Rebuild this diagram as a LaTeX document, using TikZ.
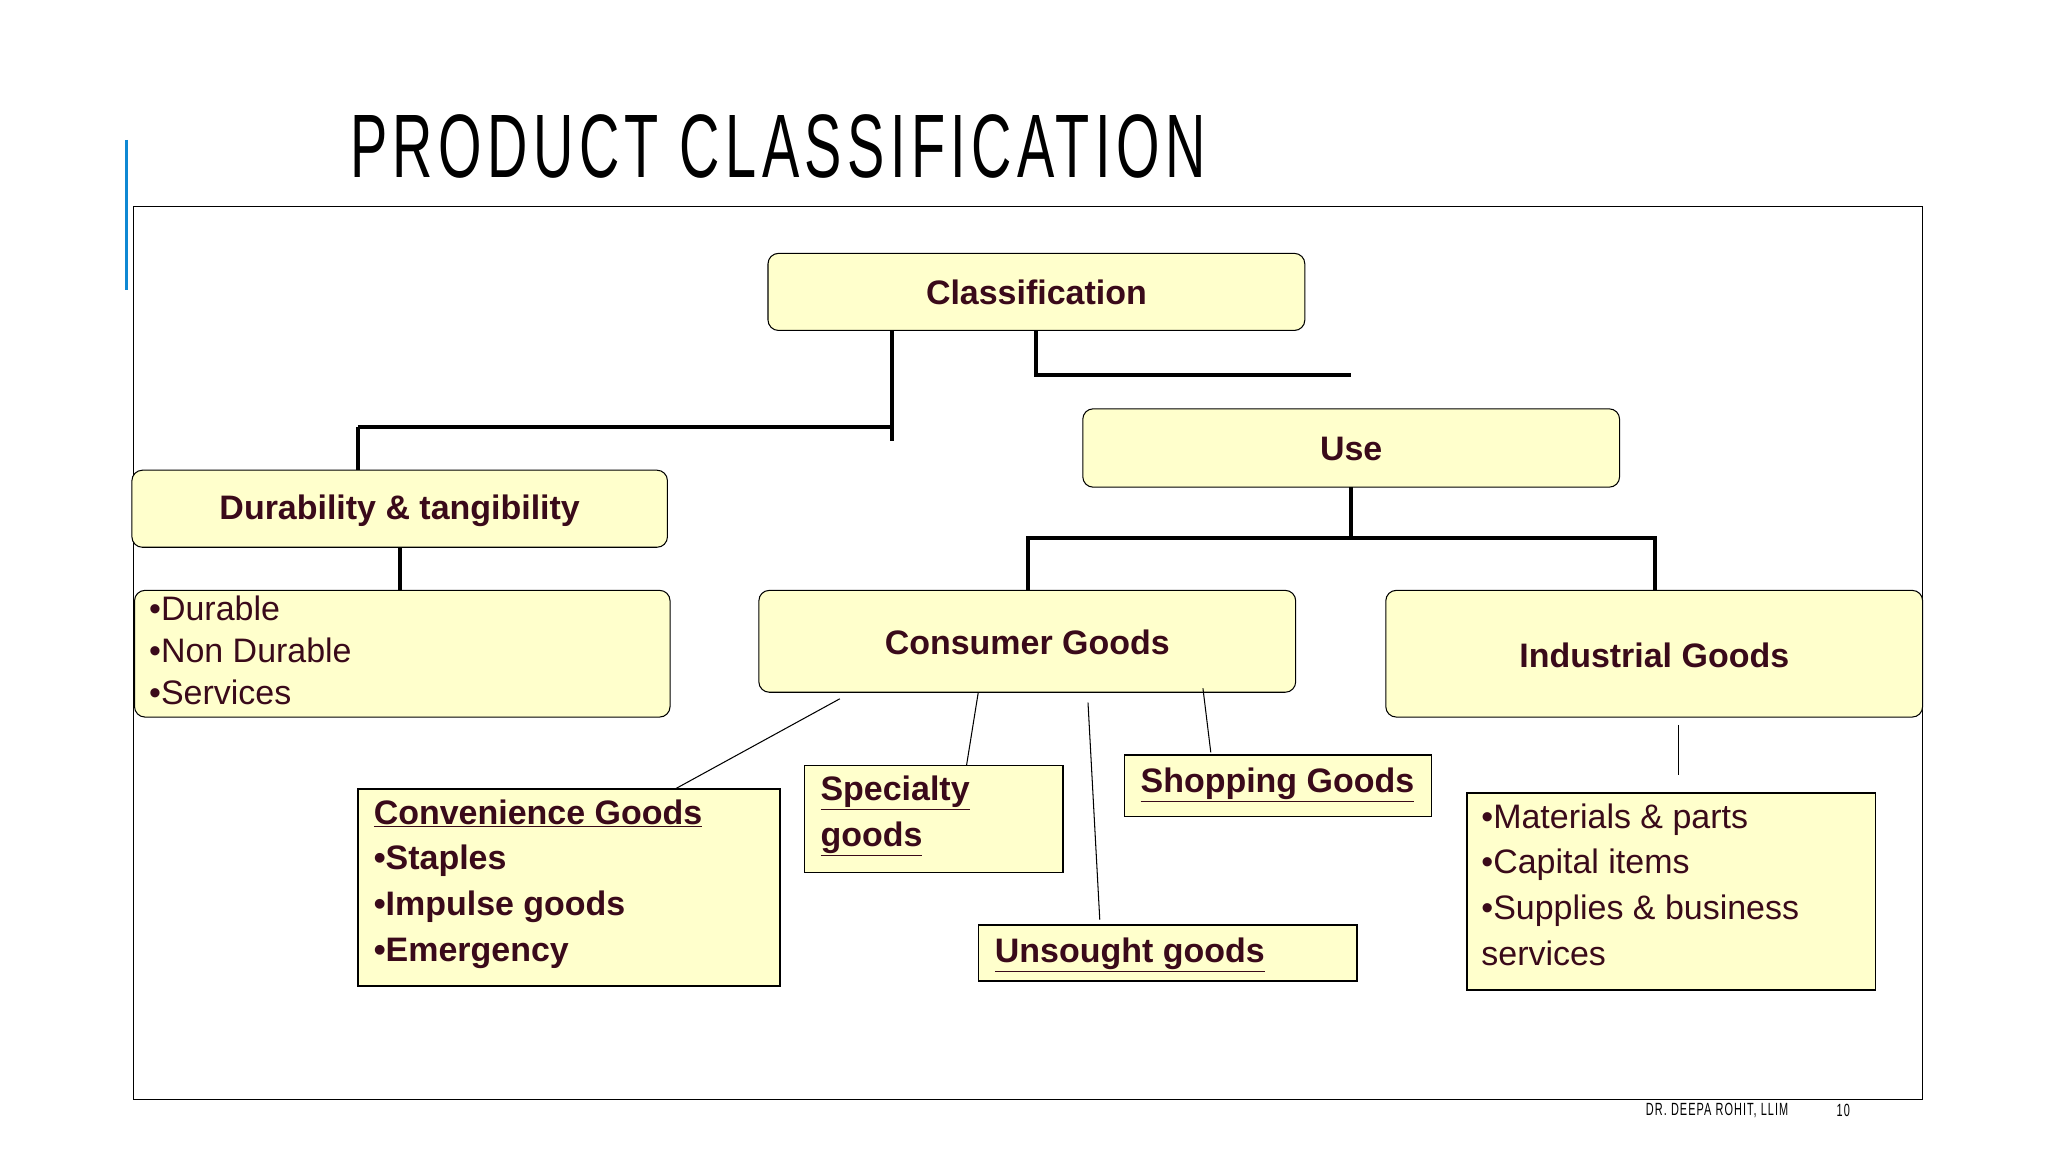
\documentclass[tikz,border=0pt]{standalone}
\usepackage{fontspec}
\setmainfont{Liberation Sans}
\newfontfamily\titlefont[FakeStretch=0.62,LetterSpace=6]{Liberation Sans}
\begin{document}
\begin{tikzpicture}[x=1pt,y=-1pt,
  rbox/.style={draw=black,fill=boxy,rounded corners=8pt,line width=0.8pt},
  sbox/.style={draw=black,fill=boxy,line width=1.2pt},
  thick line/.style={line width=3pt},
  thin line/.style={line width=0.8pt},
  lbl/.style={font=\fontsize{26}{30}\selectfont\bfseries,text=ink},
  lst/.style={font=\fontsize{26}{32}\selectfont,text=ink,align=left,anchor=north west,inner sep=0pt}]
\definecolor{boxy}{HTML}{FFFFCC}
\definecolor{ink}{HTML}{3A0A1A}
\useasboundingbox (0,0) rectangle (1568,882);
\fill[white] (0,0) rectangle (1568,882);
\draw[color=cyan!70!blue,line width=2pt] (97,107) -- (97,222);
\node[anchor=west,inner sep=0pt] (title) at (268,112) {\titlefont\fontsize{69}{75}\selectfont PRODUCT CLASSIFICATION};
\draw[line width=0.8pt] (102,158) rectangle (1472,842);
% boxes
\draw[rbox] (588,194) rectangle (999,253);
\node[lbl] (cls) at (793.5,224) {Classification};
\draw[rbox] (829,313) rectangle (1240,373);
\node[lbl] (use) at (1034.5,344) {Use};
\draw[rbox] (101,360) rectangle (511,419);
\node[lbl] (dur) at (306,391) {Durability \& tangibility};
\draw[rbox] (103,452) rectangle (513,549);
\node[lst] (durl) at (114,456) {•Durable\\•Non Durable\\•Services};
\draw[rbox] (581,452) rectangle (992,530);
\node[lbl] (cons) at (786.5,492) {Consumer Goods};
\draw[rbox] (1061,452) rectangle (1472,549);
\node[lbl] (ind) at (1266.5,502) {Industrial Goods};
\draw[sbox] (274,604) rectangle (597,755);
\node[lst,font=\fontsize{26}{35}\selectfont\bfseries] (conv) at (286,612) {\underline{Convenience Goods}\\•Staples\\•Impulse goods\\•Emergency};
\draw[sbox] (616,586) rectangle (814,668);
\node[lst,font=\fontsize{26}{35}\selectfont\bfseries] (spec) at (628,594) {\underline{Specialty}\\\underline{goods}};
\draw[sbox] (861,578) rectangle (1096,625);
\node[lbl] (shop) at (978,601) {\underline{Shopping Goods}};
\draw[sbox] (749,708) rectangle (1039,751);
\node[lbl] (uns) at (865,731) {\underline{Unsought goods}};
\draw[sbox] (1123,607) rectangle (1436,758);
\node[lst,font=\fontsize{26}{35}\selectfont] (mat) at (1134,615) {•Materials \& parts\\•Capital items\\•Supplies \& business\\services};
% connectors
\draw[thick line] (683,253) -- (683,338);
\draw[thick line] (274,327) -- (683,327);
\draw[thick line] (274,327) -- (274,360);
\draw[thick line] (793,253) -- (793,287) -- (1034,287);
\draw[thick line] (1034,373) -- (1034,412);
\draw[thick line] (787,452) -- (787,412) -- (1267,412) -- (1267,452);
\draw[thick line] (306,419) -- (306,452);
\draw[thin line] (643,535) -- (517,604);
\draw[thin line] (749,530) -- (740,586);
\draw[thin line] (833,538) -- (842,704);
\draw[thin line] (921,527) -- (927,576);
\draw[thin line] (1285,555) -- (1285,593);
\node[anchor=west,inner sep=0pt] (foot) at (1260,850) {\titlefont\fontsize{13.5}{15}\selectfont DR. DEEPA ROHIT, LLIM};
\node[anchor=west,inner sep=0pt] (pg) at (1406,850) {\titlefont\fontsize{13.5}{15}\selectfont 10};
\end{tikzpicture}
\end{document}
